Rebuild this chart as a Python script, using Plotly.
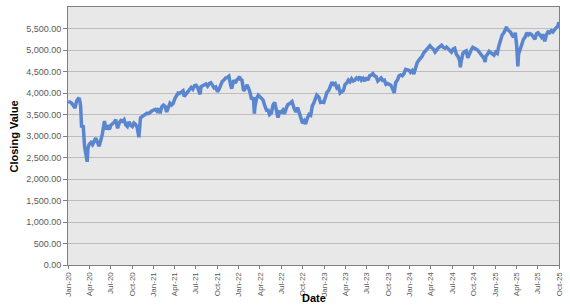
import plotly.graph_objects as go

dates = [
 "2020-01-02","2020-01-10","2020-01-17","2020-01-24","2020-01-31","2020-02-07","2020-02-14","2020-02-19","2020-02-24","2020-02-28",
 "2020-03-06","2020-03-12","2020-03-16","2020-03-23","2020-03-26","2020-03-31","2020-04-08","2020-04-15","2020-04-22","2020-04-29",
 "2020-05-06","2020-05-13","2020-05-20","2020-05-27","2020-06-05","2020-06-11","2020-06-17","2020-06-26","2020-07-02","2020-07-10",
 "2020-07-17","2020-07-23","2020-07-31","2020-08-07","2020-08-14","2020-08-21","2020-08-28","2020-09-04","2020-09-11","2020-09-18",
 "2020-09-25","2020-10-02","2020-10-09","2020-10-16","2020-10-23","2020-10-30","2020-11-06","2020-11-13","2020-11-20","2020-11-27",
 "2020-12-04","2020-12-11","2020-12-18","2020-12-24","2020-12-31",
 "2021-01-08","2021-01-15","2021-01-22","2021-01-29","2021-02-05","2021-02-12","2021-02-19","2021-02-26","2021-03-05","2021-03-12",
 "2021-03-19","2021-03-26","2021-04-02","2021-04-09","2021-04-16","2021-04-23","2021-04-30","2021-05-07","2021-05-12","2021-05-21",
 "2021-05-28","2021-06-04","2021-06-11","2021-06-18","2021-06-25","2021-07-02","2021-07-09","2021-07-19","2021-07-23","2021-07-30",
 "2021-08-06","2021-08-13","2021-08-20","2021-08-27","2021-09-03","2021-09-10","2021-09-17","2021-09-24","2021-10-01","2021-10-08",
 "2021-10-15","2021-10-22","2021-10-29","2021-11-05","2021-11-12","2021-11-19","2021-11-26","2021-12-01","2021-12-10","2021-12-17",
 "2021-12-23","2021-12-31",
 "2022-01-04","2022-01-07","2022-01-14","2022-01-21","2022-01-28","2022-02-04","2022-02-11","2022-02-18","2022-02-24","2022-03-04",
 "2022-03-08","2022-03-11","2022-03-18","2022-03-25","2022-03-31","2022-04-08","2022-04-14","2022-04-22","2022-04-29","2022-05-06",
 "2022-05-12","2022-05-20","2022-05-27","2022-06-03","2022-06-10","2022-06-17","2022-06-24","2022-07-01","2022-07-08","2022-07-15",
 "2022-07-22","2022-07-29","2022-08-05","2022-08-12","2022-08-16","2022-08-26","2022-09-02","2022-09-09","2022-09-16","2022-09-23",
 "2022-09-30","2022-10-07","2022-10-13","2022-10-21","2022-10-28","2022-11-04","2022-11-11","2022-11-18","2022-11-25","2022-11-30",
 "2022-12-09","2022-12-16","2022-12-23","2022-12-30",
 "2023-01-06","2023-01-13","2023-01-20","2023-01-27","2023-02-03","2023-02-10","2023-02-17","2023-02-24","2023-03-03","2023-03-10",
 "2023-03-17","2023-03-24","2023-03-31","2023-04-07","2023-04-14","2023-04-21","2023-04-28","2023-05-05","2023-05-12","2023-05-19",
 "2023-05-26","2023-06-02","2023-06-09","2023-06-16","2023-06-23","2023-06-30","2023-07-07","2023-07-14","2023-07-21","2023-07-28",
 "2023-08-04","2023-08-11","2023-08-18","2023-08-25","2023-09-01","2023-09-08","2023-09-15","2023-09-22","2023-09-29","2023-10-06",
 "2023-10-13","2023-10-20","2023-10-27","2023-11-03","2023-11-10","2023-11-17","2023-11-24","2023-12-01","2023-12-08","2023-12-15",
 "2023-12-22","2023-12-29",
 "2024-01-05","2024-01-12","2024-01-19","2024-01-26","2024-02-02","2024-02-09","2024-02-16","2024-02-23","2024-03-01","2024-03-08",
 "2024-03-15","2024-03-22","2024-03-28","2024-04-05","2024-04-12","2024-04-19","2024-04-26","2024-05-03","2024-05-10","2024-05-17",
 "2024-05-24","2024-05-31","2024-06-07","2024-06-14","2024-06-21","2024-06-28","2024-07-05","2024-07-12","2024-07-19","2024-07-26",
 "2024-08-02","2024-08-05","2024-08-09","2024-08-16","2024-08-23","2024-08-30","2024-09-06","2024-09-13","2024-09-20","2024-09-27",
 "2024-10-04","2024-10-11","2024-10-18","2024-10-25","2024-11-01","2024-11-08","2024-11-15","2024-11-19","2024-11-22","2024-11-29",
 "2024-12-06","2024-12-13","2024-12-20","2024-12-27",
 "2025-01-03","2025-01-10","2025-01-17","2025-01-24","2025-01-31","2025-02-07","2025-02-14","2025-02-19","2025-02-21","2025-02-28",
 "2025-03-07","2025-03-14","2025-03-21","2025-03-28","2025-04-03","2025-04-08","2025-04-11","2025-04-17","2025-04-25","2025-05-02",
 "2025-05-09","2025-05-16","2025-05-23","2025-05-30","2025-06-06","2025-06-13","2025-06-20","2025-06-27","2025-07-03","2025-07-11",
 "2025-07-18","2025-07-25","2025-08-01","2025-08-08","2025-08-15","2025-08-22","2025-08-29","2025-09-05","2025-09-12","2025-09-19",
 "2025-09-26","2025-09-30",
]

closing = [
 3800,3790,3760,3700,3650,3820,3870,3860,3700,3200,
 3250,2750,2600,2400,2700,2800,2850,2800,2880,2950,
 2850,2760,2900,3050,3350,3150,3250,3150,3250,3290,
 3320,3380,3180,3300,3360,3340,3380,3260,3220,3330,
 3250,3220,3300,3270,3200,2970,3420,3450,3480,3520,
 3530,3520,3560,3580,3600,
 3620,3580,3640,3530,3680,3720,3690,3560,3640,3760,
 3720,3760,3870,3960,4000,3990,4020,4050,3920,3990,
 4020,4070,4130,4090,4170,4180,4120,3970,4150,4170,
 4190,4210,4160,4220,4240,4180,4120,4140,4030,4090,
 4200,4270,4300,4350,4360,4390,4200,4100,4300,4230,
 4300,4340,
 4380,4320,4300,4050,4100,4190,4120,4000,3850,3900,
 3520,3700,3880,3950,3920,3890,3840,3700,3600,3600,
 3500,3540,3720,3780,3600,3430,3560,3550,3600,3520,
 3640,3730,3750,3780,3800,3630,3560,3660,3520,3380,
 3300,3350,3280,3420,3500,3480,3700,3780,3880,3950,
 3900,3780,3790,3780,
 3900,4020,4060,4150,4250,4200,4220,4120,4150,4000,
 4020,4060,4200,4230,4300,4260,4330,4280,4300,4350,
 4320,4380,4300,4340,4280,4360,4300,4400,4420,4450,
 4400,4380,4280,4320,4350,4290,4300,4200,4220,4200,
 4180,4100,4000,4250,4300,4400,4420,4400,4450,4550,
 4540,4530,
 4480,4520,4440,4600,4700,4760,4800,4850,4930,4980,
 5000,5080,5100,5050,5020,4950,5020,5050,5080,5110,
 5060,5040,5070,5020,4990,4950,5020,5040,4900,4850,
 4750,4600,4750,4920,4960,4980,4820,4940,5000,5060,
 5050,5020,5000,4950,4880,4850,4800,4720,4850,4900,
 4970,4940,4900,4880,
 4950,4920,5100,5250,5350,5400,5520,5540,5480,5450,
 5420,5350,5300,5400,5100,4620,4900,5000,5150,5250,
 5300,5400,5350,5380,5360,5300,5250,5380,5400,5350,
 5300,5360,5200,5350,5420,5400,5450,5420,5480,5520,
 5550,5650,
]

y_ticks = list(range(0, 6000, 500))

fig = go.Figure()
fig.add_trace(go.Scatter(
    x=dates, y=closing, mode="lines",
    line=dict(color="#5A86D0", width=3.5),
    showlegend=False, hoverinfo="skip",
))

fig.update_layout(
    width=570, height=305,
    margin=dict(l=68, r=7, t=6, b=40),
    paper_bgcolor="white",
    plot_bgcolor="#E8E8E8",
    font=dict(family="Liberation Sans, Arial, sans-serif", size=9, color="#595959"),
)

fig.update_xaxes(
    type="date",
    range=["2020-01-01", "2025-10-01"],
    tick0="2020-01-01", dtick="M3",
    tickformat="%b-%y", tickangle=-90,
    ticks="outside", ticklen=3, tickcolor="#808080",
    tickfont=dict(size=8, color="#595959"),
    showgrid=False, showline=True, linecolor="#808080", linewidth=1, mirror=True,
    zeroline=False,
)
fig.update_yaxes(
    range=[0, 6000],
    tickvals=y_ticks, tickformat=",.2f",
    ticks="outside", ticklen=4, tickcolor="#808080",
    tickfont=dict(size=9, color="#595959"),
    showgrid=True, gridcolor="#BDBDBD", gridwidth=1,
    showline=True, linecolor="#808080", linewidth=1, mirror=True,
    zeroline=False,
)

fig.add_annotation(
    text="<b>Closing Value</b>", xref="paper", yref="paper",
    x=-0.109, y=0.5, textangle=-90, showarrow=False,
    xanchor="center", yanchor="middle",
    font=dict(family="Liberation Sans, Arial, sans-serif", size=11, color="black"),
)
fig.add_annotation(
    text="<b>Date</b>", xref="paper", yref="paper",
    x=0.5, y=-0.128, showarrow=False,
    xanchor="center", yanchor="middle",
    font=dict(family="Liberation Sans, Arial, sans-serif", size=11, color="black"),
)

fig.write_html("out.html")
